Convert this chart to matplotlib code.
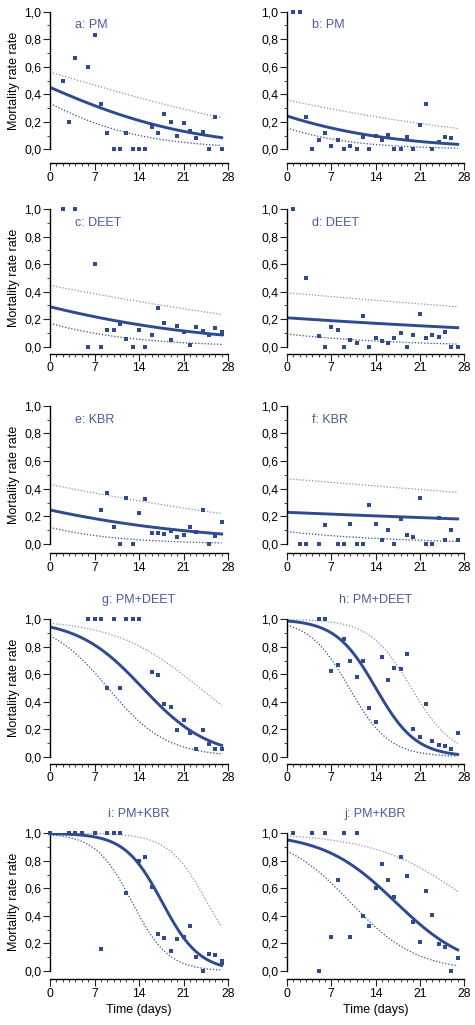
import numpy as np
import matplotlib
matplotlib.use("Agg")
import matplotlib.pyplot as plt
from matplotlib.ticker import MultipleLocator, FixedLocator

plt.rcParams["font.family"] = ["Liberation Sans", "DejaVu Sans"]

BLUE = "#2f4a8e"
LABEL_BLUE = "#4a5b9b"
LIGHT = "#8a90ad"

days_a = [2, 3, 4, 6, 7, 8, 9, 10, 11, 12, 13, 14, 15, 16, 17, 18, 19, 20, 21, 22, 23, 24, 25, 26, 27]
rate_a = [0.50, 0.20, 0.66, 0.60, 0.83, 0.33, 0.12, 0, 0, 0.12, 0, 0, 0, 0.165, 0.116, 0.26, 0.196,
          0.097, 0.19, 0.133, 0.085, 0.123, 0, 0.235, 0]

days_b = [1, 2, 3, 4, 5, 6, 7, 8, 9, 10, 11, 12, 13, 14, 15, 16, 17, 18, 19, 20, 21, 22, 23, 24, 25, 26]
rate_b = [1, 1, 0.232, 0, 0.065, 0.116, 0.024, 0.068, 0, 0.024, 0, 0.09, 0, 0.094, 0.065, 0.107,
          0, 0, 0.087, 0, 0.18, 0.33, 0, 0.053, 0.09, 0.082]

days_c = [2, 4, 6, 7, 8, 9, 10, 11, 12, 13, 14, 15, 16, 17, 18, 19, 20, 21, 22, 23, 24, 25, 26, 27, 27]
rate_c = [1, 1, 0, 0.598, 0, 0.121, 0.121, 0.165, 0.056, 0, 0.123, 0, 0.082, 0.283, 0.172, 0.051,
          0.15, 0.104, 0.015, 0.143, 0.116, 0.082, 0.133, 0.107, 0.09]

days_d = [1, 3, 5, 6, 7, 8, 9, 10, 11, 12, 13, 14, 15, 16, 17, 18, 19, 20, 21, 22, 23, 24, 25, 26, 27]
rate_d = [1, 0.5, 0.075, 0, 0.145, 0.123, 0, 0.048, 0.027, 0.22, 0, 0.06, 0.041, 0.024, 0.06,
          0.097, 0, 0.087, 0.235, 0.063, 0.082, 0.073, 0.109, 0, 0]

days_e = [8, 9, 10, 11, 12, 13, 14, 15, 16, 17, 18, 19, 20, 21, 22, 23, 24, 25, 26, 27]
rate_e = [0.248, 0.371, 0.123, 0, 0.33, 0, 0.222, 0.328, 0.077, 0.08, 0.07, 0.096, 0.048, 0.065,
          0.12, 0.084, 0.248, 0, 0.058, 0.159]

days_f = [2, 3, 5, 6, 8, 9, 10, 11, 12, 13, 14, 15, 16, 17, 18, 19, 20, 21, 22, 23, 24, 25, 26, 27]
rate_f = [0, 0, 0, 0.14, 0, 0, 0.147, 0, 0, 0.282, 0.142, 0.027, 0.104, 0, 0.18, 0.065, 0.048,
          0.33, 0, 0, 0.186, 0.027, 0.099, 0.029]

days_g = [6, 7, 8, 9, 10, 11, 12, 13, 14, 16, 17, 18, 19, 20, 21, 22, 23, 24, 25, 26, 27]
rate_g = [1, 1, 1, 0.5, 1, 0.5, 1, 1, 1, 0.617, 0.595, 0.383, 0.36, 0.197, 0.265, 0.17, 0.056,
          0.197, 0.095, 0.056, 0.058]

days_h = [5, 6, 7, 8, 9, 10, 11, 12, 13, 14, 15, 16, 17, 18, 19, 20, 21, 22, 23, 24, 25, 26, 27]
rate_h = [1, 1, 0.624, 0.665, 0.857, 0.70, 0.583, 0.699, 0.354, 0.255, 0.723, 0.56, 0.648, 0.636,
          0.75, 0.199, 0.14, 0.386, 0.117, 0.085, 0.078, 0.056, 0.172]

days_i = [0, 3, 4, 5, 7, 8, 9, 10, 11, 12, 14, 15, 16, 17, 18, 19, 20, 21, 22, 23, 24, 25, 26, 27, 27]
rate_i = [1, 1, 1, 1, 1, 0.162, 1, 1, 1, 0.567, 0.797, 0.83, 0.61, 0.27, 0.24, 0.143, 0.23, 0.245,
          0.33, 0.10, 0, 0.121, 0.116, 0.073, 0.058]

days_j = [1, 4, 5, 6, 7, 8, 9, 10, 11, 12, 13, 14, 15, 16, 17, 18, 19, 20, 21, 22, 23, 24, 25, 26, 27]
rate_j = [1, 1, 0, 1, 0.247, 0.663, 1, 0.247, 1, 0.397, 0.33, 0.603, 0.777, 0.663, 0.537, 0.83,
          0.69, 0.358, 0.213, 0.579, 0.407, 0.194, 0.177, 0, 0.097]

# fitted logistic models: (intercept, slope) on the logit scale
fit_mean = {"a": (-0.20, -0.0807), "b": (-1.141, -0.0795), "c": (-0.895, -0.0548),
            "d": (-1.325, -0.0188), "e": (-1.12, -0.0531), "f": (-1.214, -0.0109),
            "g": (2.83, -0.194), "h": (4.41, -0.314), "i": (6.0, -0.34), "j": (2.99, -0.174)}
fit_upper = {"a": (0.241, -0.0537), "b": (-0.583, -0.0421), "c": (-0.221, -0.0355),
             "d": (-0.44, -0.0169), "e": (-0.282, -0.0364), "f": (-0.112, -0.0151),
             "g": (3.51, -0.149), "h": (6.0, -0.305), "i": (8.15, -0.33), "j": (3.9, -0.133)}
fit_lower = {"a": (-0.690, -0.107), "b": (-1.695, -0.116), "c": (-1.586, -0.0916),
             "d": (-2.29, -0.0613), "e": (-1.992, -0.105), "f": (-2.326, -0.0599),
             "g": (1.98, -0.217), "h": (3.1, -0.315), "i": (4.53, -0.351), "j": (1.9, -0.19)}

panel_titles = ["a: PM", "b: PM", "c: DEET", "d: DEET", "e: KBR", "f: KBR",
                "g: PM+DEET", "h: PM+DEET", "i: PM+KBR", "j: PM+KBR"]
panel_keys = ["a", "b", "c", "d", "e", "f", "g", "h", "i", "j"]
panel_days = [days_a, days_b, days_c, days_d, days_e, days_f, days_g, days_h, days_i, days_j]
panel_rates = [rate_a, rate_b, rate_c, rate_d, rate_e, rate_f, rate_g, rate_h, rate_i, rate_j]


def logistic(b, t):
    return 1.0 / (1.0 + np.exp(-(b[0] + b[1] * t)))


W, H = 475, 1025
fig = plt.figure(figsize=(W / 100, H / 100), dpi=100)

#pixel boxes of each panel (left, width) and (y of 1.0, y of 0.0)
col_x = [(50, 178), (287, 177)]
row_y = [(11.7, 149.3), (209, 346.7), (405.7, 544), (619.3, 756.7), (833.3, 971)]
spine_off = [14, 7, 9, 7, 8]

t = np.linspace(0, 27, 200)

for idx, key in enumerate(panel_keys):
    row, col = divmod(idx, 2)
    x0, w = col_x[col]
    top, bot = row_y[row]
    ax = fig.add_axes([x0 / W, 1 - bot / H, w / W, (bot - top) / H])

    ax.plot(t, logistic(fit_upper[key], t), color=LIGHT, lw=0.9, ls=(0, (1, 1.5)))
    ax.plot(t, logistic(fit_lower[key], t), color=BLUE, lw=0.9, ls=(0, (1, 1.5)))
    ax.plot(t, logistic(fit_mean[key], t), color=BLUE, lw=2.1)
    ax.scatter(panel_days[idx], panel_rates[idx], marker="s", s=11, color=BLUE,
               linewidths=0, zorder=5, clip_on=False)

    ax.set_xlim(0, 28)
    ax.set_ylim(0, 1)
    for s in ["top", "right"]:
        ax.spines[s].set_visible(False)
    ax.spines["bottom"].set_position(("outward", spine_off[row] * 0.72))
    ax.spines["bottom"].set_bounds(0, 28)
    ax.spines["left"].set_bounds(0, 1)
    for s in ["left", "bottom"]:
        ax.spines[s].set_linewidth(1.0)

    ax.xaxis.set_major_locator(FixedLocator([0, 7, 14, 21, 28]))
    ax.xaxis.set_minor_locator(MultipleLocator(1))
    ax.yaxis.set_major_locator(MultipleLocator(0.2))
    ax.yaxis.set_minor_locator(MultipleLocator(0.1))
    ax.yaxis.set_major_formatter(plt.FuncFormatter(lambda v, p: f"{v:.1f}".replace(".", ",")))
    ax.tick_params(which="major", length=4.8, width=0.8, labelsize=8.8, pad=1.5, color="#222222")
    ax.tick_params(which="minor", length=2.4, width=0.6, color="#222222")

    if row < 3:
        ax.text(4, 0.9, panel_titles[idx], color=LABEL_BLUE, fontsize=9, va="center", ha="left")
    else:
        ax.text(0.5, 1.0 + 19 / (bot - top), panel_titles[idx], transform=ax.transAxes,
                color=LABEL_BLUE, fontsize=9, va="center", ha="center")

    if col == 0:
        ax.set_ylabel("Mortality rate rate", fontsize=9, labelpad=3)
    if row == 4:
        ax.set_xlabel("Time (days)", fontsize=9, labelpad=3)

fig.savefig("out.png", dpi=100)
